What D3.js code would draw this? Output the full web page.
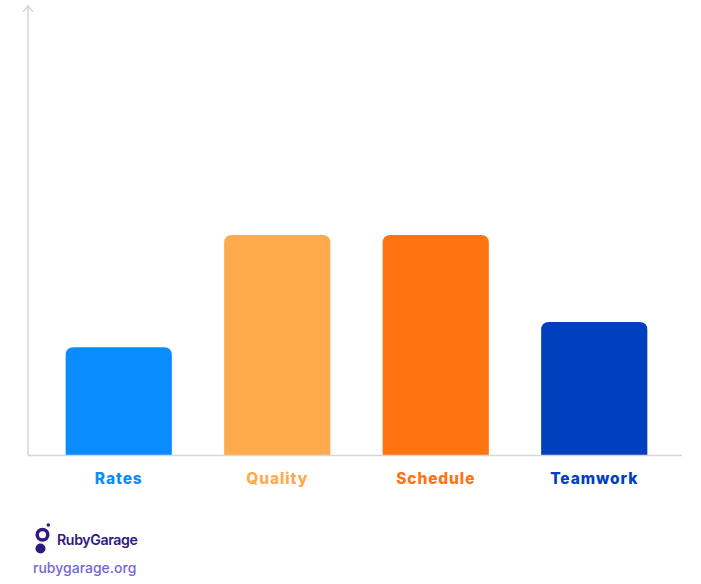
<!DOCTYPE html>
<html><head><meta charset="utf-8">
<script src="https://cdn.jsdelivr.net/npm/d3@7"></script>
<style>html,body{margin:0;padding:0;background:#fff;}</style>
</head><body>
<svg id="chart" width="701" height="584"></svg>
<script>
const categories = ["Rates", "Quality", "Schedule", "Teamwork"];
const values = [24, 49, 49, 29.6];
const colors = ["#0a8cff", "#ffaa4d", "#ff7410", "#0040bf"];

const svg = d3.select("#chart");
const baseY = 455, topY = 6, axisX = 28, axisRight = 682;

const x = d3.scaleBand().domain(categories).range([39.5, 673.5]).paddingInner(0.33).paddingOuter(0.165);
const y = d3.scaleLinear().domain([0, 100]).range([baseY, topY]);

function topRounded(x0, y0, w, h, r) {
  r = Math.min(r, w / 2, h);
  return `M${x0},${y0 + h}V${y0 + r}Q${x0},${y0} ${x0 + r},${y0}H${x0 + w - r}Q${x0 + w},${y0} ${x0 + w},${y0 + r}V${y0 + h}Z`;
}

svg.selectAll("path.bar").data(categories).join("path")
  .attr("class", "bar")
  .attr("fill", (d, i) => colors[i])
  .attr("d", (d, i) => topRounded(x(d), y(values[i]), x.bandwidth(), baseY - y(values[i]), 8));

// axes
svg.append("line").attr("x1", axisX).attr("x2", axisRight).attr("y1", baseY + 0.5).attr("y2", baseY + 0.5)
  .attr("stroke", "#d6d6da").attr("stroke-width", 1.5);
svg.append("line").attr("x1", axisX).attr("x2", axisX).attr("y1", topY).attr("y2", baseY)
  .attr("stroke", "#d6d6da").attr("stroke-width", 1.5);
svg.append("path").attr("d", `M${axisX - 5},${topY + 6}L${axisX},${topY}L${axisX + 5},${topY + 6}`)
  .attr("fill", "none").attr("stroke", "#d6d6da").attr("stroke-width", 1.5);

// category labels
svg.selectAll("text.cat").data(categories).join("text")
  .attr("class", "cat")
  .attr("x", d => x(d) + x.bandwidth() / 2)
  .attr("y", 484)
  .attr("text-anchor", "middle")
  .attr("font-family", "Inter, 'Open Sans', sans-serif")
  .attr("font-weight", 800)
  .attr("font-size", 15.5)
  .attr("letter-spacing", 0.9)
  .attr("fill", (d, i) => colors[i])
  .text(d => d);

// logo
const logo = svg.append("g");
logo.append("circle").attr("cx", 42.5).attr("cy", 534.7).attr("r", 5.3).attr("fill", "none").attr("stroke", "#2e1a80").attr("stroke-width", 3.5);
logo.append("circle").attr("cx", 48.3).attr("cy", 525).attr("r", 1.8).attr("fill", "#2e1a80");
logo.append("circle").attr("cx", 40.5).attr("cy", 548.5).attr("r", 5).attr("fill", "#2e1a80");
logo.append("text").attr("x", 57).attr("y", 545).attr("font-family", "Inter, sans-serif").attr("font-weight", 600)
  .attr("font-size", 14.2).attr("letter-spacing", -0.4).attr("fill", "#2e1a80").text("RubyGarage");
svg.append("text").attr("x", 33).attr("y", 573).attr("font-family", "Inter, sans-serif").attr("font-weight", 500)
  .attr("font-size", 14).attr("fill", "#7566d6").text("rubygarage.org");
</script>
</body></html>
